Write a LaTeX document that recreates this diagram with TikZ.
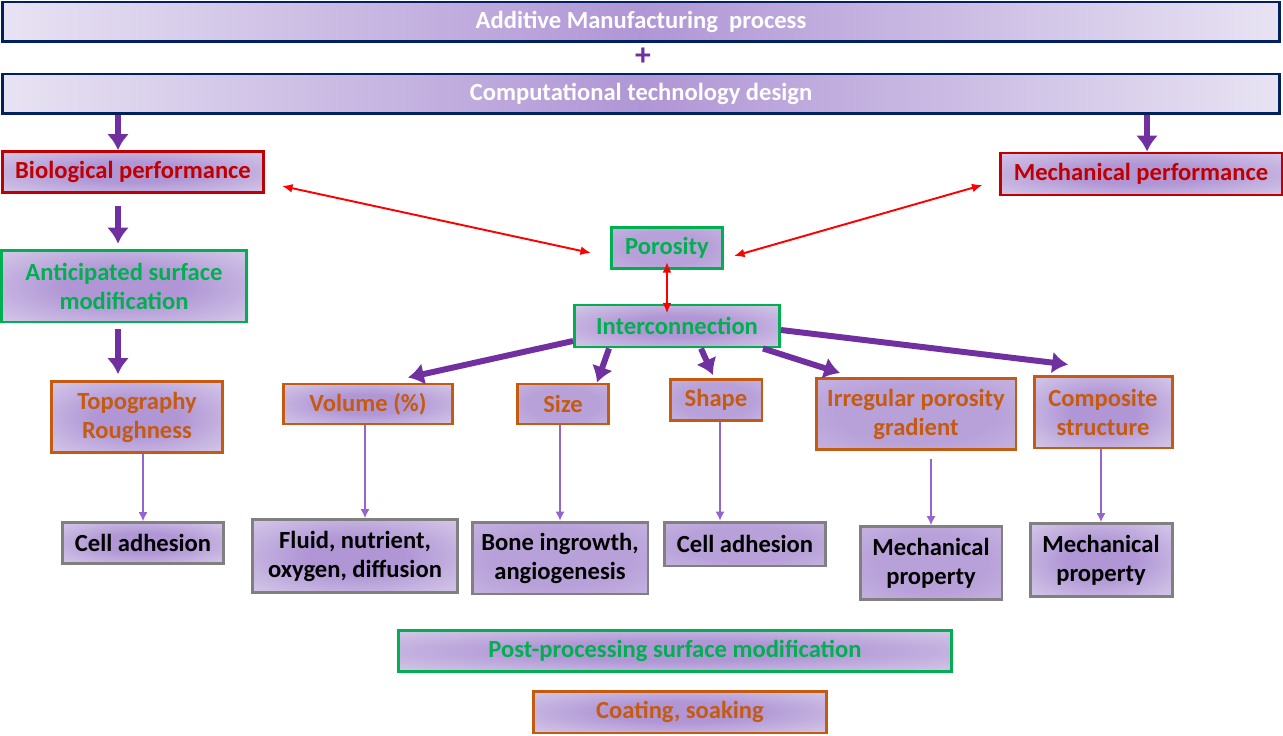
\documentclass[tikz,border=0pt]{standalone}
\usepackage{fontspec}
\setmainfont{Carlito}
\usetikzlibrary{arrows.meta}

\definecolor{navy}{RGB}{0,32,96}
\definecolor{perfred}{RGB}{192,0,0}
\definecolor{arrred}{RGB}{255,0,0}
\definecolor{leafgreen}{RGB}{0,176,80}
\definecolor{rust}{RGB}{197,90,17}
\definecolor{slate}{RGB}{128,128,128}
\definecolor{violet}{RGB}{112,48,160}
\definecolor{lilac}{RGB}{150,100,205}
\definecolor{boxmid}{RGB}{176,150,213}
\definecolor{boxedge}{RGB}{232,227,243}
\definecolor{flatmid}{RGB}{184,161,217}
\definecolor{flatedge}{RGB}{212,200,234}

\pgfdeclareradialshading{boxglow}{\pgfpoint{0bp}{0bp}}{color(0bp)=(boxmid); color(12bp)=(boxmid); color(48bp)=(boxedge); color(80bp)=(boxedge)}
\pgfdeclareradialshading{boxflat}{\pgfpoint{0bp}{0bp}}{color(0bp)=(flatmid); color(20bp)=(flatmid); color(55bp)=(flatedge); color(80bp)=(flatedge)}

\tikzstyle{box}=[draw, line width=1.7pt, shading=boxglow, align=center, inner sep=0pt, font=\bfseries\fontsize{14}{16.5}\selectfont]
\tikzstyle{flat}=[shading=boxflat]
\tikzstyle{bar}=[box, draw=navy, text=white, left color=boxedge, right color=boxedge, middle color=boxmid, minimum width=25.56cm, minimum height=0.8cm]
\tikzstyle{redbox}=[box, draw=perfred, text=perfred]
\tikzstyle{greenbox}=[box, draw=leafgreen, text=leafgreen]
\tikzstyle{orangebox}=[box, draw=rust, text=rust]
\tikzstyle{greybox}=[box, draw=slate, text=black]
\tikzstyle{bigflow}=[-{Latex[length=9pt, width=12.5pt]}, line width=3.4pt, violet]
\tikzstyle{thinflow}=[-{Latex[length=5pt, width=5pt]}, line width=0.6pt, lilac]
\tikzstyle{pair}=[{Latex[length=6pt, width=5pt]}-{Latex[length=6pt, width=5pt]}, line width=1.1pt, arrred]

\begin{document}
\begin{tikzpicture}[x=0.02cm, y=-0.02cm]
  \useasboundingbox (0,0) rectangle (1283,736);
  \coordinate (lcol) at (118,0);
  \coordinate (rcol) at (1147,0);

  % top of the chart
  \node[bar] (amp) at (641,22) {Additive Manufacturing\ \ process};
  \node[violet, font=\bfseries\fontsize{18}{20}\selectfont] (plus) at (643,57) {+};
  \node[bar] (ctd) at (641,94) {Computational technology design};

  % biological side
  \node[redbox, minimum width=5.22cm, minimum height=0.82cm] (bio) at (133,172) {Biological performance};
  \node[redbox, minimum width=5.64cm, minimum height=0.84cm] (mech) at (1141,174) {Mechanical performance};
  \node[greenbox, minimum width=4.9cm, minimum height=1.44cm] (anti) at (124,286) {Anticipated surface\\modification};
  \node[orangebox, minimum width=3.42cm, minimum height=1.42cm] (topo) at (137,417) {Topography\\Roughness};
  \node[greybox, minimum width=3.24cm, minimum height=0.82cm] (cell1) at (143,543) {Cell adhesion};

  % porosity branch
  \node[greenbox, flat, minimum width=2.22cm, minimum height=0.82cm] (poro) at (667,248) {Porosity};
  \node[greenbox, minimum width=4.1cm, minimum height=0.84cm] (inter) at (677,326) {Interconnection};
  \node[orangebox, minimum width=3.38cm, minimum height=0.8cm] (vol) at (368,404) {Volume (\%)};
  \node[orangebox, flat, minimum width=1.82cm, minimum height=0.8cm] (size) at (563,404) {Size};
  \node[orangebox, flat, minimum width=1.84cm, minimum height=0.82cm] (shape) at (716,400) {Shape};
  \node[orangebox, flat, minimum width=4.0cm, minimum height=1.42cm] (irr) at (916,414) {Irregular porosity\\gradient};
  \node[orangebox, minimum width=2.76cm, minimum height=1.44cm] (comp) at (1103,412) {Composite\\structure};

  \node[greybox, minimum width=4.12cm, minimum height=1.46cm] (fluid) at (355,556) {Fluid, nutrient,\\oxygen, diffusion};
  \node[greybox, flat, minimum width=3.52cm, minimum height=1.44cm] (bone) at (560,558) {Bone ingrowth,\\angiogenesis};
  \node[greybox, flat, minimum width=3.22cm, minimum height=0.88cm] (cell2) at (745,544) {Cell adhesion};
  \node[greybox, flat, minimum width=2.84cm, minimum height=1.46cm] (mp1) at (931,563) {Mechanical\\property};
  \node[greybox, minimum width=2.84cm, minimum height=1.46cm] (mp2) at (1101,560) {Mechanical\\property};

  % bottom
  \node[greenbox, minimum width=11.06cm, minimum height=0.82cm] (post) at (675,651) {Post-processing surface modification};
  \node[orangebox, minimum width=5.86cm, minimum height=0.84cm] (coat) at (680,712) {Coating, soaking};

  % connectors
  \draw[bigflow] (ctd.south -| lcol) -- (bio.north -| lcol);
  \draw[bigflow] (ctd.south -| rcol) -- (mech.north -| rcol);
  \draw[bigflow, shorten <=0.24cm, shorten >=0.1cm] (bio.south -| lcol) -- (anti.north -| lcol);
  \draw[bigflow, shorten <=0.12cm, shorten >=0.12cm] (anti.south -| lcol) -- (topo.north -| lcol);

  \draw[pair] ([xshift=0.34cm, yshift=-0.28cm]bio.east) -- ([xshift=-0.38cm, yshift=-0.1cm]poro.west);
  \draw[pair] ([xshift=0.2cm, yshift=-0.16cm]poro.east) -- ([xshift=-0.32cm, yshift=-0.22cm]mech.west);
  \draw[pair] ([yshift=0.16cm]poro.south) -- ([yshift=-0.2cm]inter.north -| poro);

  \draw[bigflow] ([yshift=-0.3cm]inter.west) -- ([xshift=0.8cm, yshift=0.1cm]vol.north);
  \draw[bigflow] ([xshift=-1.36cm]inter.south) -- ([xshift=0.68cm]size.north);
  \draw[bigflow] ([xshift=0.48cm]inter.south) -- ([xshift=-0.06cm, yshift=0.06cm]shape.north);
  \draw[bigflow] ([xshift=1.72cm]inter.south) -- ([xshift=-1.52cm, yshift=0.08cm]irr.north);
  \draw[bigflow] ([yshift=-0.08cm]inter.east) -- ([xshift=-0.7cm, yshift=0.2cm]comp.north);

  \draw[thinflow] (topo.south -| cell1) -- (cell1.north);
  \draw[thinflow] ([xshift=-0.06cm]vol.south) -- ([xshift=-0.06cm]vol.south |- fluid.north);
  \draw[thinflow] (size.south -| bone) -- (bone.north);
  \draw[thinflow] ([xshift=0.08cm]shape.south) -- ([xshift=0.08cm]shape.south |- cell2.north);
  \draw[thinflow, shorten <=0.16cm] (irr.south -| mp1) -- (mp1.north);
  \draw[thinflow] (comp.south -| mp2) -- (mp2.north);
\end{tikzpicture}
\end{document}
